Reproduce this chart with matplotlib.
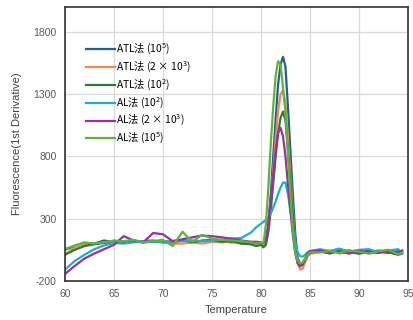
import matplotlib
matplotlib.use('Agg')
import matplotlib.pyplot as plt

plt.rcParams['font.family'] = ['Liberation Sans', 'DejaVu Sans', 'Noto Sans CJK SC']
plt.rcParams['axes.unicode_minus'] = False
# legend labels use mathtext for the exponents; non-math part takes the legend font
plt.rcParams['mathtext.fontset'] = 'custom'
plt.rcParams['mathtext.rm'] = 'Noto Sans CJK SC'
plt.rcParams['mathtext.it'] = 'Noto Sans CJK SC'

# ── data ─────────────────────────────────────────────────────────────
temperature = [60, 61, 62, 63, 64, 65, 66, 67, 68, 69, 70, 71, 72, 73, 74, 75,
               76, 77, 78, 79, 79.5,
               80, 80.25, 80.5, 80.75, 81, 81.25, 81.5, 81.75, 82, 82.25, 82.5,
               82.75, 83, 83.25, 83.5, 83.75, 84, 84.25, 84.5, 84.75, 85,
               86, 87, 88, 89, 90, 91, 92, 93, 94, 94.4]

atl_1e5 = [50, 80, 95, 100, 125, 110, 115, 125, 110, 115, 120, 110, 125, 115, 120, 125,
           120, 110, 115, 105, 95,
           100, 90, 110, 250, 500, 800, 1100, 1380, 1540, 1600, 1520,
           1200, 850, 500, 180, -20, -60, -70, -40, 0, 20,
           40, 20, 45, 30, 20, 45, 35, 25, 40, 30]

atl_2e3 = [10, 70, 100, 95, 110, 105, 120, 115, 110, 120, 110, 100, 100, 110, 100, 115,
           110, 120, 100, 95, 90,
           100, 85, 100, 220, 430, 680, 940, 1170, 1300, 1330, 1230,
           950, 650, 350, 100, -60, -110, -100, -50, 0, 20,
           30, 45, 20, 35, 45, 20, 30, 45, 25, 35]

atl_1e2 = [10, 50, 80, 95, 105, 120, 110, 115, 120, 125, 110, 120, 130, 110, 125, 130,
           115, 120, 100, 95, 80,
           90, 70, 90, 190, 370, 580, 800, 990, 1110, 1160, 1090,
           850, 580, 310, 90, -50, -80, -70, -30, 10, 30,
           35, 25, 40, 45, 20, 30, 45, 30, 10, 20]

al_1e2 = [-110, -40, 10, 55, 85, 105, 100, 110, 120, 115, 115, 120, 120, 125, 120, 125,
          130, 140, 145, 190, 230,
          260, 275, 290, 310, 340, 390, 440, 500, 550, 590, 590,
          500, 360, 230, 110, 30, 0, -5, 10, 30, 40,
          55, 40, 60, 35, 50, 55, 30, 45, 55, 20]

al_2e3 = [-145, -80, -20, 20, 55, 90, 160, 125, 110, 185, 175, 120, 135, 150, 165, 160,
          150, 140, 125, 115, 115,
          110, 100, 130, 260, 450, 650, 850, 990, 1030, 960, 800,
          580, 370, 170, 20, -60, -80, -60, -20, 20, 40,
          45, 30, 35, 20, 40, 35, 25, 40, 30, 45]

al_1e5 = [55, 85, 110, 100, 110, 125, 120, 130, 110, 120, 130, 80, 195, 115, 170, 140,
          130, 125, 120, 110, 100,
          110, 100, 250, 550, 900, 1200, 1450, 1565, 1540, 1350, 1150,
          820, 500, 200, 30, -40, -60, -50, -20, 10, 30,
          30, 40, 25, 45, 35, 20, 40, 50, 15, 25]

series = [
    ('ATL法 (10$^{5}$)',          atl_1e5, '#245f93'),
    ('ATL法 (2 × 10$^{3}$)',      atl_2e3, '#ee8a50'),
    ('ATL法 (10$^{2}$)',          atl_1e2, '#2f7a34'),
    ('AL法 (10$^{2}$)',           al_1e2,  '#22a8dc'),
    ('AL法 (2 × 10$^{3}$)',       al_2e3,  '#9a2f9e'),
    ('AL法 (10$^{5}$)',           al_1e5,  '#5cb43c'),
]

x_ticks = [60, 65, 70, 75, 80, 85, 90, 95]
y_ticks = [-200, 300, 800, 1300, 1800]

# ── figure ───────────────────────────────────────────────────────────
fig = plt.figure(figsize=(4.13, 3.2), dpi=100, facecolor='white')
ax = fig.add_axes([0.157, 0.122, 0.831, 0.856])

for label, vals, color in series:
    ax.plot(temperature, vals, color=color, lw=1.6, label=label,
            solid_joinstyle='round')

ax.set_xlim(60, 95)
ax.set_ylim(-200, 2000)
ax.set_xticks(x_ticks)
ax.set_yticks(y_ticks)
ax.tick_params(length=0, labelsize=7.5, colors='#595959', pad=6)
ax.grid(True, color='#d9d9d9', lw=0.9)
ax.set_axisbelow(True)
for spine in ax.spines.values():
    spine.set_edgecolor('#333333')
    spine.set_linewidth(1.2)

ax.set_xlabel('Temperature', fontsize=8, color='#404040', labelpad=4)
ax.set_ylabel('Fluorescence(1st Derivative)', fontsize=8, color='#404040',
              labelpad=8)

ax.legend(loc='upper left', bbox_to_anchor=(0.05, 0.887), frameon=False,
          prop={'family': 'Noto Sans CJK SC', 'size': 7.4},
          handlelength=2.8, handletextpad=0.1,
          labelspacing=0.27, borderaxespad=0)

fig.savefig('out.png', dpi=100)
